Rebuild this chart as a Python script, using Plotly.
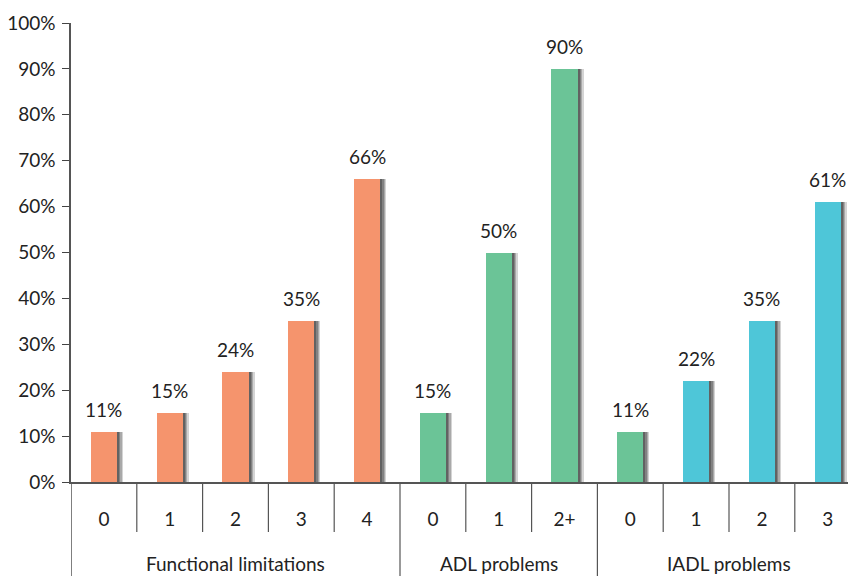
import plotly.graph_objects as go

categories = ["0", "1", "2", "3", "4", "0", "1", "2+", "0", "1", "2", "3"]
values = [11, 15, 24, 35, 66, 15, 50, 90, 11, 22, 35, 61]
bar_colors = ["#F5946D"] * 5 + ["#6BC497"] * 4 + ["#4EC6D8"] * 3
groups = ["Functional limitations", "ADL problems", "IADL problems"]
group_spans = [(0, 4), (5, 7), (8, 11)]
y_ticks = list(range(0, 101, 10))

FONT = "Lato, 'Open Sans', sans-serif"
FS = 19
x = list(range(len(values)))
BW = 0.4
# page has an 8px body margin: compensate so the plot sits where the reference's does
W, H = 848, 568
ML, MT, MB = 63, 15, 94
PLOT_H = H - MT - MB

fig = go.Figure()
# soft shadow layers
for dx, op in [(0.09, 0.2), (0.07, 0.25), (0.05, 0.3), (0.03, 0.35)]:
    fig.add_trace(go.Bar(
        x=x, y=values, width=BW, offset=-BW / 2 + dx,
        marker=dict(color=f"rgba(40,40,40,{op})", line=dict(width=0)),
        hoverinfo="skip", showlegend=False))
fig.add_trace(go.Bar(
    x=x, y=values, width=BW, offset=-BW / 2,
    marker=dict(color=bar_colors, line=dict(width=0)),
    showlegend=False))

# value labels
for xi, v in zip(x, values):
    fig.add_annotation(x=xi, y=v, xref="x", yref="y", text=f"{v}%",
                       showarrow=False, yanchor="bottom", yshift=9,
                       font=dict(family=FONT, size=FS, color="#222"))

line_col = "#555555"
bottom = -MB / PLOT_H
fig.add_shape(type="line", xref="x", yref="paper", x0=-0.5, x1=-0.5,
              y0=0, y1=bottom, line=dict(color=line_col, width=1.5))
for a, b in group_spans[1:]:
    fig.add_shape(type="line", xref="x", yref="paper", x0=a - 0.5, x1=a - 0.5,
                  y0=0, y1=bottom, line=dict(color=line_col, width=1.2))
starts = {a for a, b in group_spans}
for i in range(1, len(values)):
    if i in starts:
        continue
    fig.add_shape(type="line", xref="x", yref="paper", x0=i - 0.5, x1=i - 0.5,
                  y0=0, y1=-50 / PLOT_H, line=dict(color=line_col, width=1.2))

for g, (a, b) in zip(groups, group_spans):
    fig.add_annotation(x=(a + b) / 2, y=0, xref="x", yref="paper", text=g,
                       showarrow=False, yanchor="middle", yshift=-81,
                       font=dict(family=FONT, size=FS, color="#222"))

fig.update_layout(
    width=W, height=H,
    margin=dict(l=ML, r=0, t=MT, b=MB),
    paper_bgcolor="white", plot_bgcolor="white",
    barmode="overlay", bargap=0,
    xaxis=dict(range=[-0.5, -0.5 + 785 / 65.8], tickvals=x, ticktext=categories,
               showgrid=False, zeroline=False, showline=True, linecolor=line_col,
               linewidth=1.5, ticks="", ticklabelstandoff=19,
               tickfont=dict(family=FONT, size=FS, color="#222")),
    yaxis=dict(range=[0, 100], tickvals=y_ticks, ticktext=[f"{t}%" for t in y_ticks],
               showgrid=False, zeroline=False, showline=True, linecolor=line_col,
               linewidth=1.5, ticks="outside", ticklen=7, tickcolor="#444",
               tickwidth=1.2, ticklabelstandoff=3,
               tickfont=dict(family=FONT, size=FS, color="#222")),
)

fig.write_html("out.html")
